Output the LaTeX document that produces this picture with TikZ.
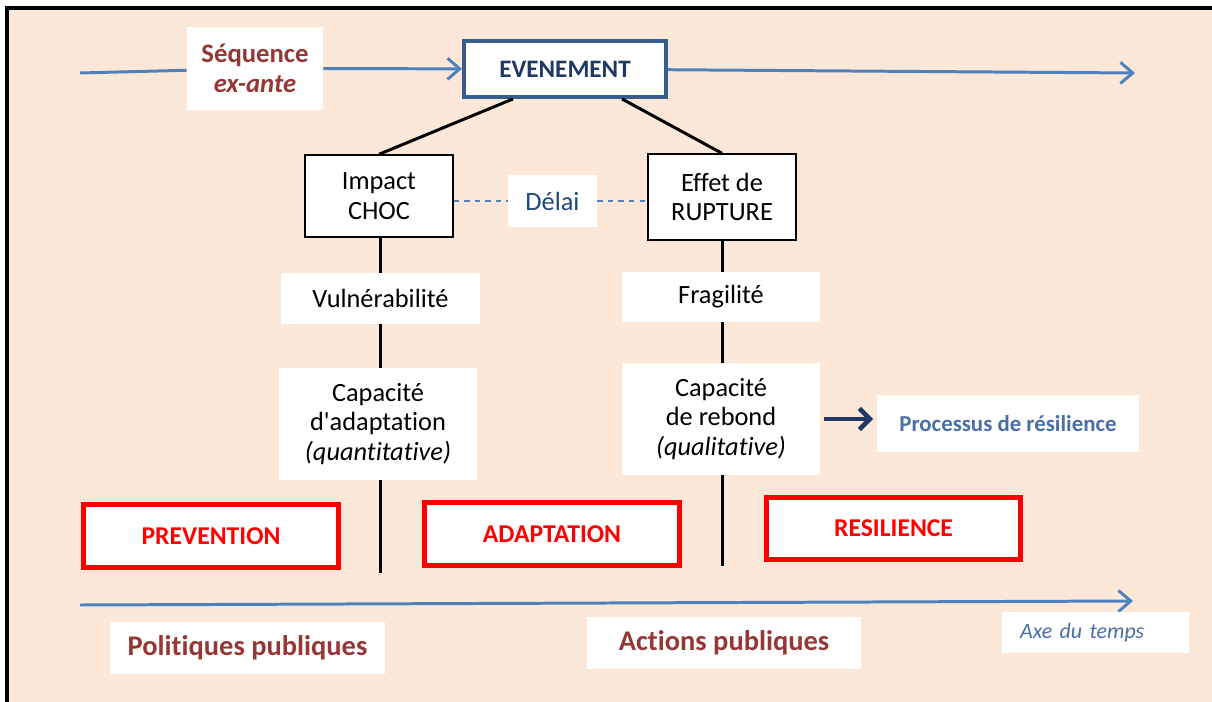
\documentclass[tikz,border=0pt]{standalone}
\usepackage{fontspec}
\setmainfont{Carlito}[Ligatures={TeX,NoCommon}]
\usetikzlibrary{arrows.meta}
\definecolor{peach}{HTML}{FCE8D8}
\definecolor{axeblue}{HTML}{4F81BD}
\definecolor{evtblue}{HTML}{385D8A}
\definecolor{navy}{HTML}{1F3864}
\definecolor{darkred}{HTML}{953735}
\definecolor{procblue}{HTML}{4A6FA5}
\definecolor{delaiblue}{HTML}{1F497D}

\begin{document}
\begin{tikzpicture}[x=0.02cm, y=-0.02cm,
    whitebox/.style={fill=white, inner sep=0pt, align=center, font=\fontsize{15}{17}\selectfont},
    blackbox/.style={whitebox, draw=black, line width=0.8pt},
    redbox/.style={fill=white, draw=red, line width=2.8pt, inner sep=0pt, text=red,
        minimum width=5.1cm, minimum height=1.26cm, font=\fontsize{14.6}{17}\selectfont\bfseries},
    publicbox/.style={fill=white, inner sep=0pt, text=darkred, minimum height=1.04cm,
        font=\fontsize{16.2}{18}\selectfont\bfseries},
    axe/.style={axeblue, line width=1.7pt, -{Straight Barb[length=7pt, width=12pt]}},
    stem/.style={black, line width=1.7pt}]
    \useasboundingbox (0,0) rectangle (1212,702);

    % background and frame
    \fill[peach] (7,8) rectangle (1220,710);
    \draw[line width=1.8pt] (7,710) -- (7,8) -- (1220,8);

    % top sequence
    \node[whitebox, minimum width=2.72cm, minimum height=1.66cm, text=darkred,
        font=\fontsize{15.2}{17.5}\selectfont\bfseries] (seq) at (255,68.5) {Séquence\\\textit{ex-ante}};
    \node[fill=white, draw=evtblue, line width=2.5pt, inner sep=0pt, minimum width=4.03cm,
        minimum height=1.11cm, text=navy, font=\fontsize{14.3}{17}\selectfont\bfseries] (even) at (565,69) {EVENEMENT};
    \coordinate (topstart) at (80,73);
    \coordinate (topend) at (1135,73);
    \draw[axeblue, line width=1.7pt] (topstart) -- (seq);
    \draw[axe] (seq) -- (even);
    \draw[axe] (even) -- (topend);

    % impact and rupture
    \node[blackbox, minimum width=2.96cm, minimum height=1.64cm] (impact) at (379,196) {Impact\\CHOC};
    \node[blackbox, minimum width=2.96cm, minimum height=1.72cm] (effet) at (722,197) {Effet de\\RUPTURE};
    \node[whitebox, minimum width=1.78cm, minimum height=1.04cm, text=delaiblue] (delai) at (552.5,201) {Délai};
    \draw[stem] ([xshift=-1.04cm]even.south) -- (impact.north);
    \draw[stem] ([xshift=1.14cm]even.south) -- (effet.north);
    \draw[axeblue, dashed, line width=0.8pt] (impact.east |- delai) -- (delai.west);
    \draw[axeblue, dashed, line width=0.8pt] (delai.east) -- (effet.west |- delai);

    % left column
    \node[whitebox, minimum width=3.98cm, minimum height=1.02cm] (vuln) at (380.5,298.5) {Vulnérabilité};
    \node[whitebox, minimum width=3.96cm, minimum height=2.24cm] (capa) at (378,424)
        {Capacité\\d\textquotesingle adaptation\\\textit{(quantitative)}};
    \coordinate (leftend) at (380,573);
    \draw[stem] (impact.south -| leftend) -- (vuln.north -| leftend);
    \draw[stem] (vuln.south -| leftend) -- (capa.north -| leftend);
    \draw[stem] (capa.south -| leftend) -- (leftend);

    % right column
    \node[whitebox, minimum width=3.96cm, minimum height=1.0cm] (frag) at (721,297) {Fragilité};
    \node[whitebox, minimum width=3.96cm, minimum height=2.24cm] (capr) at (721,419) {Capacité\\de rebond\\\textit{(qualitative)}};
    \coordinate (rightend) at (722,566);
    \draw[stem] (effet.south -| rightend) -- (frag.north -| rightend);
    \draw[stem] (frag.south -| rightend) -- (capr.north -| rightend);
    \draw[stem] (capr.south -| rightend) -- (rightend);

    % resilience process
    \node[whitebox, minimum width=5.24cm, minimum height=1.14cm, text=procblue,
        font=\fontsize{13}{15}\selectfont\bfseries] (proc) at (1008,423.5) {Processus de résilience};
    \draw[navy, line width=2.6pt, -{Straight Barb[length=6pt, width=12pt]}]
        ([xshift=2pt]capr.east) -- ([xshift=-2pt]proc.west |- capr.east);

    % phases
    \node[redbox] (prev) at (211,536) {PREVENTION};
    \node[redbox] (adapt) at (552,534) {ADAPTATION};
    \node[redbox, minimum width=5.08cm, minimum height=1.24cm] (resil) at (893.5,528.5) {RESILIENCE};

    % time axis
    \coordinate (axestart) at (80,605);
    \coordinate (axeend) at (1133,601);
    \draw[axe] (axestart) -- (axeend);
    \node[publicbox, minimum width=5.5cm] (polit) at (247.5,648) {Politiques publiques};
    \node[publicbox, minimum width=5.48cm] (actions) at (724,643) {Actions publiques};
    \node[fill=white, inner xsep=0.36cm, inner ysep=0pt, text width=3.02cm, align=left,
        minimum height=0.82cm, text=procblue, font=\fontsize{12.5}{15}\selectfont\itshape] (axe) at (1095.5,632.5) {Axe du temps};
\end{tikzpicture}
\end{document}
